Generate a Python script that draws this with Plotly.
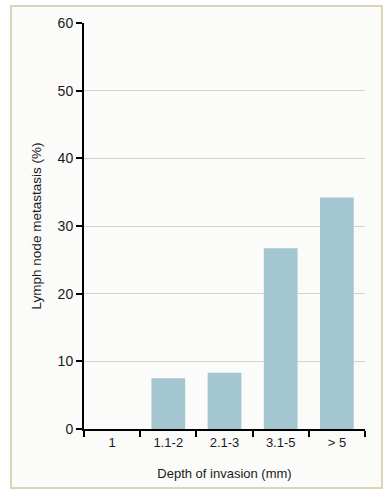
import plotly.graph_objects as go

categories = ["1", "1.1-2", "2.1-3", "3.1-5", "> 5"]
metastasis = [0, 7.5, 8.3, 26.7, 34.2]
y_ticks = [0, 10, 20, 30, 40, 50, 60]

W, H = 388, 500
L, R, T, B = 84, 23, 23, 71
pw, ph = W - L - R, H - T - B

def px_x(p):
    return (p - L) / pw

def px_y(p):
    return (H - B - p) / ph

fig = go.Figure(go.Bar(
    x=categories, y=metastasis, width=0.6,
    marker=dict(color="#a4c6d1", line=dict(width=0)),
))

fig.update_layout(
    width=W, height=H,
    margin=dict(l=L, r=R, t=T, b=B),
    paper_bgcolor="white",
    plot_bgcolor="rgba(0,0,0,0)",
    font=dict(family="Liberation Sans, Arial, sans-serif", size=13, color="#1a1a1a"),
    showlegend=False,
    shapes=[dict(
        type="rect", xref="paper", yref="paper", layer="below",
        x0=px_x(11), x1=px_x(382), y0=px_y(488), y1=px_y(6),
        line=dict(color="#dbd5b6", width=2), fillcolor="#fbfbf9",
    )],
)

fig.update_xaxes(
    showline=True, linecolor="black", linewidth=2,
    ticks="outside", tickson="boundaries", ticklen=6, tickwidth=1.5, tickcolor="black",
    showgrid=False,
    title=dict(text="Depth of invasion (mm)", standoff=20, font=dict(size=13)),
    tickfont=dict(size=13),
)
fig.update_yaxes(
    range=[0, 60], tickvals=y_ticks,
    showline=True, linecolor="black", linewidth=2,
    ticks="outside", ticklen=6, tickwidth=1.5, tickcolor="black",
    showgrid=True, gridcolor="#d4d4d4", gridwidth=1,
    zeroline=False,
    title=dict(text="Lymph node metastasis (%)", standoff=13, font=dict(size=13.5)),
    tickfont=dict(size=14),
)

fig.write_html("out.html", config={"displayModeBar": False},
               post_script="document.body.style.margin='0';")
